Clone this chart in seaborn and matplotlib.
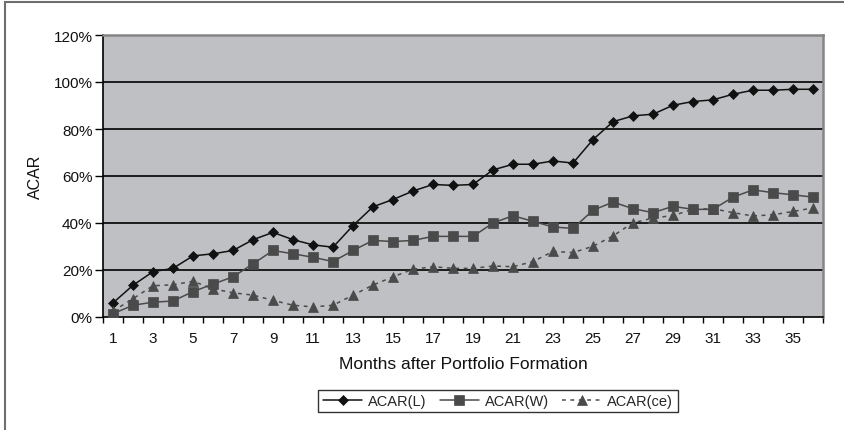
import numpy as np
import pandas as pd
import matplotlib
matplotlib.use("Agg")
import matplotlib.pyplot as plt
from matplotlib.patches import Rectangle
import seaborn as sns

# ---- data ----
months = list(range(1, 37))
acar_l = [6.0, 13.5, 19.3, 20.7, 26.0, 26.9, 28.3, 32.9, 36.0, 32.9, 30.7, 29.7,
          38.9, 46.9, 50.0, 53.6, 56.4, 56.0, 56.4, 62.6, 65.0, 65.0, 66.4, 65.5,
          75.5, 83.1, 85.6, 86.3, 90.1, 91.7, 92.4, 94.8, 96.5, 96.5, 96.9, 96.9]
acar_w = [1.4, 5.0, 6.3, 6.8, 10.8, 14.0, 17.1, 22.6, 28.3, 26.9, 25.4, 23.6,
          28.3, 32.6, 32.1, 32.6, 34.3, 34.3, 34.3, 40.0, 43.1, 40.7, 38.3, 37.7,
          45.4, 48.9, 46.1, 44.4, 47.1, 45.8, 45.8, 51.0, 54.1, 52.9, 52.0, 51.0]
acar_ce = [2.5, 7.8, 13.3, 13.7, 15.2, 12.0, 10.3, 9.3, 7.1, 5.0, 4.3, 5.0,
           9.3, 13.6, 17.1, 20.3, 21.4, 20.7, 20.7, 21.7, 21.4, 23.6, 27.9, 27.4,
           30.1, 34.5, 40.1, 42.1, 43.2, 45.8, 46.1, 44.4, 43.0, 43.5, 44.9, 46.4]
series_names = ["ACAR(L)", "ACAR(W)", "ACAR(ce)"]
x_tick_labels = [str(m) for m in months[::2]]
y_ticks = [0, 20, 40, 60, 80, 100, 120]
y_tick_labels = [f"{v}%" for v in y_ticks]
x_label = "Months after Portfolio Formation"
y_label = "ACAR"

df = pd.DataFrame({
    "month": months * 3,
    "acar": acar_l + acar_w + acar_ce,
    "series": [series_names[0]] * 36 + [series_names[1]] * 36 + [series_names[2]] * 36,
})

sns.set_theme(style="ticks")
plt.rcParams["font.family"] = ["Liberation Sans", "DejaVu Sans"]

W, H = 844, 431
fig = plt.figure(figsize=(W / 100, H / 100), dpi=100)
fig.patch.set_facecolor("white")
ax = fig.add_axes([103 / W, (H - 318) / H, 720 / W, 282 / H])
ax.set_facecolor("#bfc0c4")

styles = {
    "ACAR(L)": dict(color="#111111", marker="D", markersize=5.5, linestyle="-", linewidth=1.1),
    "ACAR(W)": dict(color="#4a4a4a", marker="s", markersize=6.5, linestyle="-", linewidth=1.1),
    "ACAR(ce)": dict(color="#4a4a4a", marker="^", markersize=7, linestyle=(0, (2.5, 3)), linewidth=1.1),
}
for name in series_names:
    st = styles[name]
    sub = df[df["series"] == name]
    sns.lineplot(data=sub, x="month", y="acar", ax=ax, label=name,
                 color=st["color"], marker=st["marker"], markersize=st["markersize"],
                 linestyle=st["linestyle"], linewidth=st["linewidth"],
                 markeredgecolor=st["color"], markerfacecolor=st["color"],
                 markeredgewidth=0.5, zorder=3)

ax.set_xlim(0.5, 36.5)
ax.set_ylim(0, 120)

# gridlines
for v in y_ticks[1:-1]:
    ax.axhline(v, color="black", linewidth=1.2, zorder=1)

# x ticks: marks at category boundaries, labels at odd months
ax.set_xticks(np.arange(0.5, 37, 1))
ax.set_xticklabels([])
ax.set_xticks(months[::2], minor=True)
ax.set_xticklabels(x_tick_labels, minor=True)
ax.tick_params(axis="x", which="major", length=4, width=1, color="black", direction="out")
ax.tick_params(axis="x", which="minor", length=0, pad=10, labelsize=11, labelcolor="#111111")

ax.set_yticks(y_ticks)
ax.set_yticklabels(y_tick_labels)
ax.tick_params(axis="y", length=5.5, width=1, color="black", direction="out", pad=2,
               labelsize=11, labelcolor="#111111")

ax.set_xlabel(x_label, fontsize=12.5, color="#111111", labelpad=8)
ax.set_ylabel(y_label, fontsize=11.5, color="#111111", labelpad=8)

for side in ["left", "bottom"]:
    ax.spines[side].set_color("black")
    ax.spines[side].set_linewidth(1.2)
for side in ["top", "right"]:
    ax.spines[side].set_visible(True)
    ax.spines[side].set_color("#858585")
    ax.spines[side].set_linewidth(1.8)

handles, labels = ax.get_legend_handles_labels()
ax.get_legend().remove()
leg = fig.legend(handles, labels, loc="center", bbox_to_anchor=(498 / W, 29 / H),
                 ncol=3, frameon=True, fancybox=False, fontsize=10.5,
                 handlelength=2.7, columnspacing=0.9, handletextpad=0.4,
                 borderpad=0.3, borderaxespad=0)
leg.get_frame().set_edgecolor("black")
leg.get_frame().set_linewidth(1.0)

# outer chart frame (only top and left visible in the crop)
fig.add_artist(Rectangle((5 / W, -0.2), 1.5, (H - 3) / H + 0.2, transform=fig.transFigure,
                         fill=False, edgecolor="#6e6e6e", linewidth=1.5, clip_on=False))

fig.savefig("out.png", dpi=100, facecolor="white")
